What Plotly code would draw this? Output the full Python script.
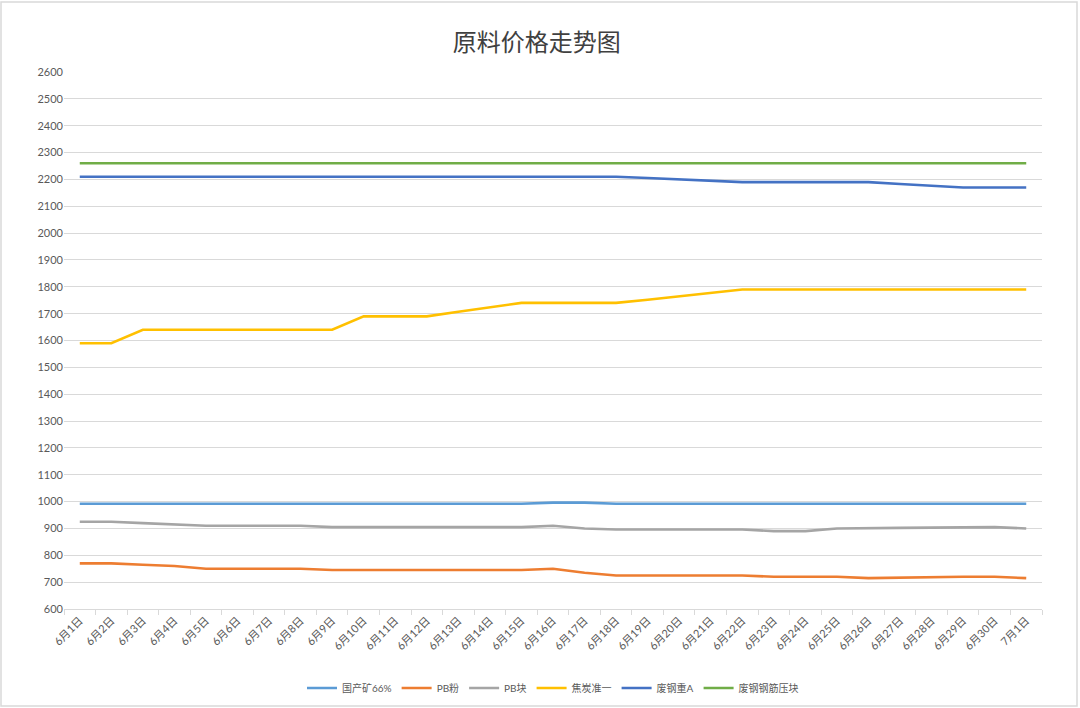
import plotly.graph_objects as go

dates = [f"6月{d}日" for d in range(1, 31)] + ["7月1日"]

domestic_66 = [992]*15 + [996, 996] + [992]*14
pb_fines = [770, 770, 765, 760, 750, 750, 750, 750, 745, 745, 745, 745, 745, 745, 745,
            750, 735, 725, 725, 725, 725, 725, 720, 720, 720, 715, 717, 718, 720, 720, 715]
pb_lump = [925, 925, 920, 915, 910, 910, 910, 910, 905, 905, 905, 905, 905, 905, 905,
           910, 900, 896, 896, 896, 896, 896, 890, 890, 900, 900, 902, 903, 905, 905, 900]
coke = [1590, 1590, 1640, 1640, 1640, 1640, 1640, 1640, 1640, 1690, 1690, 1690, 1707, 1723,
        1740, 1740, 1740, 1740, 1752, 1765, 1778, 1790, 1790, 1790, 1790, 1790, 1790, 1790,
        1790, 1790, 1790]
scrap_a = [2210]*18 + [2205, 2200, 2195] + [2190]*5 + [2183, 2177] + [2170]*3
scrap_rebar = [2260]*31

series = [
    ("国产矿66%", domestic_66, "#5B9BD5"),
    ("PB粉", pb_fines, "#ED7D31"),
    ("PB块", pb_lump, "#A5A5A5"),
    ("焦炭准一", coke, "#FFC000"),
    ("废钢重A", scrap_a, "#4472C4"),
    ("废钢钢筋压块", scrap_rebar, "#70AD47"),
]

FONT = "Lato, Noto Sans CJK SC, sans-serif"

fig = go.Figure()
for name, vals, color in series:
    fig.add_trace(go.Scatter(x=dates, y=vals, name=name, mode="lines",
                             line=dict(color=color, width=2.6)))

# plot area pixel geometry: x 64..1042, y 72..609
def px_x(p):
    return (p - 64) / 978
def px_y(p):
    return (609 - p) / 537

fig.update_layout(
    width=1080, height=708,
    margin=dict(l=64, r=38, t=72, b=99, autoexpand=False),
    paper_bgcolor="white", plot_bgcolor="white",
    font=dict(family=FONT, size=11, color="#595959"),
    title=dict(text="原料价格走势图", x=0.497, xanchor="center", y=1 - 43/708, yanchor="middle",
               font=dict(family="Noto Sans CJK SC, sans-serif", size=24, color="#404040")),
    showlegend=True,
    legend=dict(orientation="h", x=0.5, xanchor="center", y=px_y(688), yanchor="middle",
                font=dict(family=FONT, size=10, color="#595959"), itemwidth=30,
                tracegroupgap=0),
    shapes=[dict(type="rect", xref="paper", yref="paper",
                 x0=px_x(1), x1=px_x(1077), y0=px_y(706), y1=px_y(2),
                 line=dict(color="#d9d9d9", width=1.5), layer="below")],
)
fig.update_xaxes(type="category", range=[-0.5, 30.5], tickangle=-45, automargin=False,
                 showline=True, linecolor="#d9d9d9", linewidth=1,
                 ticks="outside", tickson="boundaries", ticklen=5, tickcolor="#d9d9d9",
                 showgrid=False, tickfont=dict(size=11, color="#595959"))
fig.update_yaxes(range=[600, 2600], dtick=100, showgrid=True, gridcolor="#d9d9d9",
                 gridwidth=1, zeroline=False, showline=False, ticks="", automargin=False,
                 tickfont=dict(size=11, color="#595959"))

fig.write_html("out.html")
